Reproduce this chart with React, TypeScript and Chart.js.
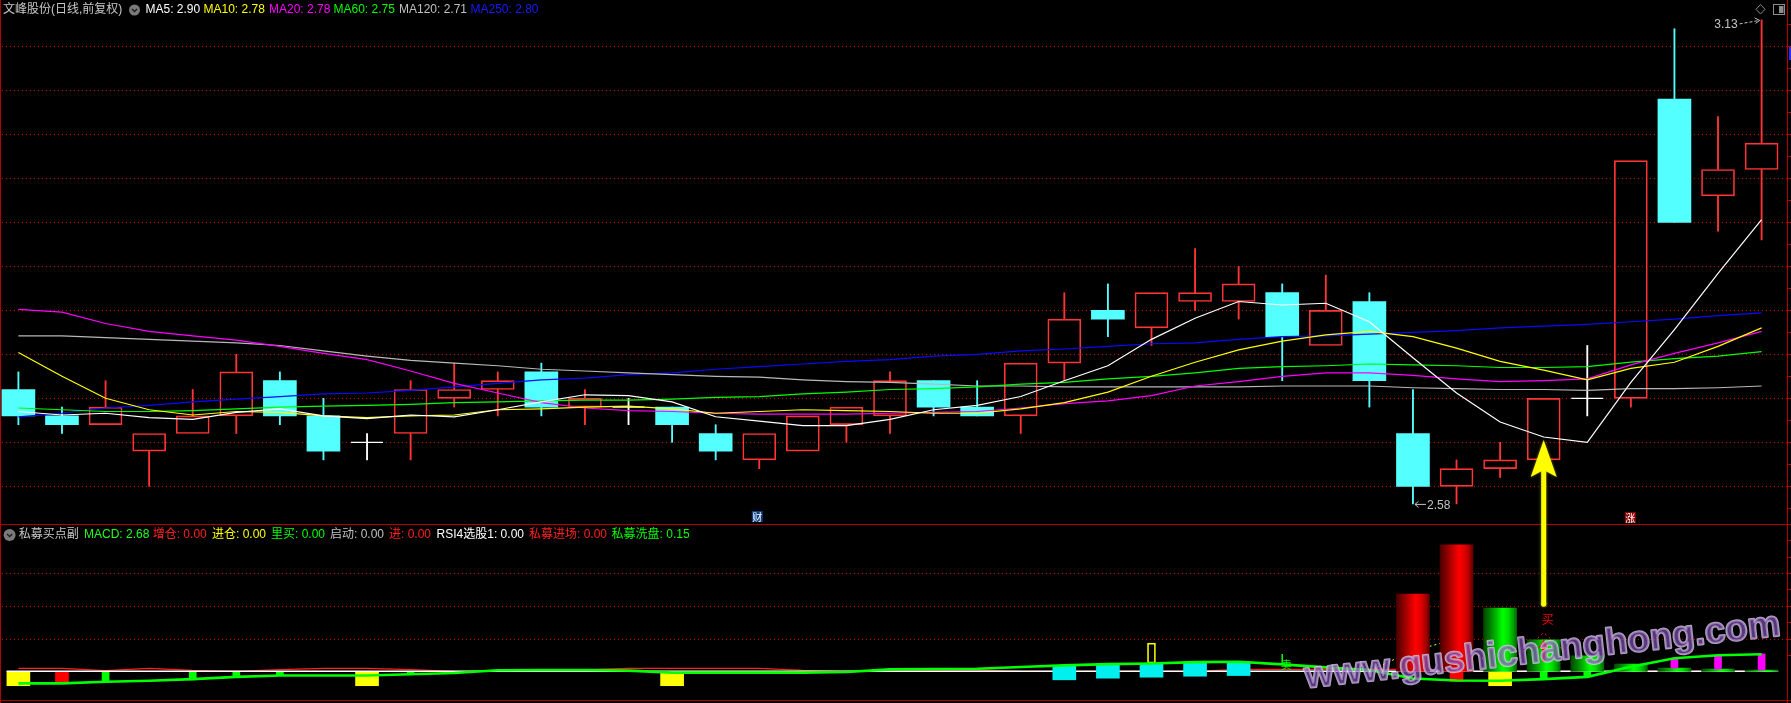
import React, { useEffect, useRef } from "react";
import { Chart, registerables } from "chart.js";

Chart.register(...registerables);

// ---------------- data ----------------
const opens = [2.71,2.68,2.67,2.64,2.66,2.68,2.72,2.68,2.65,2.66, 2.70,2.71,2.73,2.69,2.69,2.69,2.66,2.63,2.64,2.67, 2.68,2.72,2.69,2.68,2.74,2.80,2.78,2.81,2.81,2.82, 2.76,2.81,2.66,2.60,2.62,2.63,2.70,2.70,3.04,2.93, 2.96];
const highs = [2.73,2.69,2.72,2.66,2.71,2.75,2.73,2.70,2.66,2.72, 2.74,2.73,2.74,2.71,2.70,2.69,2.67,2.66,2.68,2.69, 2.73,2.72,2.72,2.74,2.82,2.83,2.82,2.87,2.85,2.83, 2.84,2.82,2.71,2.63,2.65,2.70,2.76,2.97,3.12,3.02, 3.13];
const lows = [2.67,2.66,2.67,2.60,2.66,2.66,2.67,2.63,2.63,2.63, 2.69,2.68,2.68,2.67,2.67,2.65,2.63,2.62,2.64,2.65, 2.66,2.68,2.68,2.66,2.72,2.77,2.76,2.80,2.79,2.72, 2.76,2.69,2.58,2.58,2.61,2.63,2.68,2.69,2.90,2.89, 2.88];
const closes = [2.68,2.67,2.69,2.66,2.68,2.73,2.68,2.64,2.65,2.71, 2.71,2.72,2.69,2.70,2.69,2.67,2.64,2.66,2.68,2.69, 2.72,2.69,2.68,2.74,2.79,2.79,2.82,2.82,2.83,2.77, 2.80,2.72,2.60,2.62,2.63,2.70,2.70,2.97,2.90,2.96, 2.99];

const ma5 = [2.685,2.681,2.683,2.678,2.676,2.684,2.688,2.680,2.677,2.681, 2.679,2.687,2.696,2.704,2.703,2.696,2.679,2.674,2.669,2.669, 2.676,2.687,2.692,2.702,2.720,2.737,2.767,2.791,2.810,2.806, 2.808,2.787,2.746,2.706,2.673,2.656,2.650,2.718,2.778,2.842, 2.903];
const ma10 = [2.752,2.725,2.700,2.687,2.681,2.685,2.684,2.680,2.678,2.680, 2.681,2.687,2.688,2.690,2.691,2.688,2.683,2.685,2.687,2.686, 2.685,2.683,2.683,2.688,2.695,2.707,2.725,2.741,2.755,2.765, 2.772,2.776,2.770,2.757,2.742,2.732,2.721,2.734,2.741,2.759, 2.780];
const ma20 = [2.801,2.798,2.785,2.776,2.771,2.766,2.759,2.751,2.744,2.731, 2.717,2.706,2.695,2.689,2.686,2.685,2.683,2.682,2.682,2.682, 2.683,2.684,2.685,2.689,2.694,2.697,2.703,2.714,2.719,2.725, 2.729,2.729,2.726,2.722,2.719,2.720,2.722,2.738,2.751,2.763, 2.776];
const ma60 = [2.689,2.687,2.685,2.685,2.686,2.688,2.690,2.691,2.692,2.693, 2.695,2.696,2.697,2.698,2.698,2.699,2.701,2.702,2.705,2.707, 2.710,2.711,2.713,2.716,2.718,2.722,2.725,2.729,2.734,2.736, 2.737,2.739,2.738,2.737,2.735,2.735,2.736,2.741,2.745,2.748, 2.753];
const ma120 = [2.771,2.771,2.769,2.767,2.765,2.763,2.760,2.754,2.748,2.743, 2.740,2.737,2.733,2.731,2.729,2.727,2.725,2.724,2.721,2.719, 2.718,2.716,2.714,2.714,2.713,2.713,2.713,2.713,2.713,2.714, 2.714,2.714,2.712,2.711,2.710,2.710,2.709,2.711,2.711,2.712, 2.714];
const ma250 = [2.679,2.683,2.689,2.692,2.696,2.699,2.702,2.705,2.706,2.709, 2.713,2.717,2.721,2.723,2.727,2.729,2.733,2.736,2.739,2.742, 2.744,2.748,2.750,2.754,2.756,2.759,2.762,2.763,2.767,2.770, 2.771,2.773,2.775,2.777,2.780,2.782,2.784,2.787,2.790,2.794, 2.797];

const priceGridLevels = [3.10, 3.05, 3.00, 2.95, 2.90, 2.85, 2.80, 2.75, 2.70, 2.65, 2.60];
const subGridLevels = [1, 2, 3];

// sub panel (私募买点副)
const subGreenLine = [-0.37,-0.37,-0.32,-0.29,-0.24,-0.17,-0.13,-0.13,-0.13,-0.09, -0.05,0.03,0.04,0.04,0.02,-0.04,-0.04,-0.04,-0.04,-0.02, 0.06,0.07,0.08,0.13,0.18,0.22,0.24,0.28,0.29,0.21, 0.12,0.04,-0.22,-0.28,-0.29,-0.24,-0.17,0.14,0.40,0.49, 0.52];
const subRedLine = [0.09,0.09,0.02,0.09,0.03,0,0.05,0.09,0.09,0.05, 0,0,0.04,0.05,0.09,0.09,0.09,0.09,0.03,0, 0.04,0.04,0.04,0,0,0,0,0,0.06,0.06, 0.06,0.06,0.06,0,0,0,0,0,0,0, 0];
const yellowBlockBars = [0, 8, 15, 34];
const yellowBlockVals = [-0.44, -0.44, -0.44, -0.44];
const redBlockBars = [1, 33];
const redBlockVals = [-0.38, -0.31];
const greenStickBars = [2, 4, 5, 6, 9, 35, 36];
const greenStickVals = [-0.32, -0.26, -0.17, -0.13, -0.08, -0.24, -0.17];
const cyanBlockBars = [24, 25, 26, 27, 28];
const cyanBlockTop = [0.18, 0.22, 0.24, 0.28, 0.29];
const cyanBlockBottom = [-0.26, -0.21, -0.18, -0.15, -0.13];
const redCylBars = [32, 33];
const redCylVals = [2.36, 3.86];
const greenCylBars = [34, 35, 36, 37, 38, 39, 40];
const greenCylVals = [1.93, 0.96, 0.47, 0.22, 0.10, 0.07, 0.04];
const magentaBars = [38, 39, 40];
const magentaLow = [0.10, 0.07, 0.04];
const magentaHigh = [0.37, 0.47, 0.53];
const yellowBoxBars = [26];
const yellowBoxLow = [0.25];
const yellowBoxHigh = [0.86];
const yellowZigBars = [31, 32, 33, 34];
const yellowZigVals = [0.02, 0.62, 0.99, 0];
const redZigBars = [34, 35, 36];
const redZigVals = [0, 1.18, 0];

// markers
const buyBar = 35;
const buyArrowTipPrice = 2.6526;
const buyArrowTailSub = 1.97;
const buyRedArrowTop = 0.96;
const buyRedArrowBottom = 0.29;
const buyTextSub = 1.59;
const sellBar = 29;
const caiBar = 17;
const zhangBar = 37;

// legends
const mainTitle = "文峰股份(日线,前复权)";
const maNames = ["MA5", "MA10", "MA20", "MA60", "MA120", "MA250"];
const maColors = ["#ffffff", "#ffff00", "#ff00ff", "#00ff00", "#c0c0c0", "#1a1aff"];
const subTitle = "私募买点副";
const subNames = ["MACD", "增仓", "进仓", "里买", "启动", "进", "RSI4选股1", "私募进场", "私募洗盘"];
const subValues = ["2.68", "0.00", "0.00", "0.00", "0.00", "0.00", "0.00", "0.00", "0.15"];
const subColors = ["#20ff20", "#ff2020", "#ffff00", "#00ff00", "#c0c0c0", "#ff2020", "#ffffff", "#ff2020", "#00ff00"];
const watermark = "www.gushichanghong.com";

// ---------------- layout constants ----------------
const W = 1791;
const H = 703;
const STEP = 43.58;
const X_MIN = -18.4 / STEP;
const X_MAX = X_MIN + W / STEP;
const PX_PER_PRICE = 880;
const Y_MAX = 3.10 + 46.3 / PX_PER_PRICE;
const Y_MIN = Y_MAX - H / PX_PER_PRICE;
const PX_PER_SUB = 32.75;
const S_MAX = 671.3 / PX_PER_SUB;
const S_MIN = S_MAX - H / PX_PER_SUB;

const RED = "#ff3434";
const CYAN = "#54ffff";
const FONT = '"Liberation Sans", "Noto Sans CJK SC", sans-serif';
const CJK = '"Noto Sans CJK SC", "Liberation Sans", sans-serif';

const idx = opens.map((_, i) => i);
const upIdx = idx.filter((i) => closes[i] > opens[i]);
const downIdx = idx.filter((i) => closes[i] < opens[i]);
const dojiIdx = idx.filter((i) => closes[i] === opens[i]);

const pts = (arr: number[]) => arr.map((v, i) => ({ x: i, y: v }));
const pick = (bars: number[], a: number[], b?: number[]) =>
  bars.map((bi, k) => ({ x: bi, y: b ? [a[k], b[k]] : [0, a[k]] }));

const cylinder = (stops: [number, string][]) => (c: any) => {
  const fallback = stops[3][1];
  const chart = c && c.chart;
  if (!c || !c.raw || !chart || !chart.scales || !chart.scales.x) return fallback;
  const px = chart.scales.x.getPixelForValue(c.raw.x);
  if (!Number.isFinite(px)) return fallback;
  const g = chart.ctx.createLinearGradient(px - 16.5, 0, px + 16.5, 0);
  stops.forEach(([o, col]) => g.addColorStop(o, col));
  return g;
};
const redStops: [number, string][] = [[0, "#4a0000"], [0.18, "#800000"], [0.4, "#c80000"], [0.58, "#ff0000"], [0.75, "#e00000"], [0.9, "#a00000"], [1, "#600000"]];
const greenStops: [number, string][] = [[0, "#004800"], [0.18, "#007a00"], [0.4, "#00c000"], [0.58, "#00ff00"], [0.75, "#00e000"], [0.9, "#00a000"], [1, "#006800"]];

function buildConfig() {
  const bar = { type: "bar", grouped: false, borderSkipped: false, borderWidth: 0, yAxisID: "y" };
  const sbar = { ...bar, yAxisID: "y2" };
  const line = (data: any, color: string, order: number, extra: any = {}) => ({
    type: "line", data, borderColor: color, backgroundColor: color, borderWidth: 1.2,
    pointRadius: 0, tension: 0, fill: false, yAxisID: "y", order, ...extra,
  });

  const datasets: any[] = [
    // candles
    { ...bar, data: downIdx.map((i) => ({ x: i, y: [lows[i], highs[i]] })), backgroundColor: CYAN, barThickness: 1.2, order: 40 },
    { ...bar, data: upIdx.filter((i) => highs[i] > closes[i]).map((i) => ({ x: i, y: [closes[i], highs[i]] })), backgroundColor: RED, barThickness: 1.2, order: 40 },
    { ...bar, data: upIdx.filter((i) => lows[i] < opens[i]).map((i) => ({ x: i, y: [lows[i], opens[i]] })), backgroundColor: RED, barThickness: 1.2, order: 40 },
    { ...bar, data: dojiIdx.map((i) => ({ x: i, y: [lows[i], highs[i]] })), backgroundColor: "#ffffff", barThickness: 1.2, order: 40 },
    { ...bar, data: upIdx.map((i) => ({ x: i, y: [opens[i], closes[i]] })), backgroundColor: "rgba(0,0,0,0)", borderColor: RED, borderWidth: 1, barThickness: 33, order: 39 },
    { ...bar, data: downIdx.map((i) => ({ x: i, y: [closes[i], opens[i]] })), backgroundColor: CYAN, barThickness: 33, order: 39 },
    { type: "line", data: dojiIdx.map((i) => ({ x: i, y: opens[i] })), showLine: false, pointStyle: "line", pointRadius: 16, pointBorderWidth: 1.3, pointBorderColor: "#ffffff", borderColor: "#ffffff", yAxisID: "y", order: 38 },
    // moving averages
    line(pts(ma250), "#0a0aff", 8),
    line(pts(ma120), "#b8b8b8", 7),
    line(pts(ma60), "#00ff00", 6),
    line(pts(ma20), "#ff00ff", 5),
    line(pts(ma10), "#ffff00", 4),
    line(pts(ma5), "#ffffff", 3),
    // sub panel
    line(pts(subRedLine), "#ff2020", 60, { yAxisID: "y2", borderWidth: 1.3 }),
    line(yellowZigBars.map((b, k) => ({ x: b, y: yellowZigVals[k] })), "#ffff00", 59, { yAxisID: "y2", borderWidth: 1, borderDash: [2, 3] }),
    line(redZigBars.map((b, k) => ({ x: b, y: redZigVals[k] })), "#ff2020", 59, { yAxisID: "y2", borderWidth: 1, borderDash: [2, 3] }),
    { ...sbar, data: pick(yellowBlockBars, yellowBlockVals), backgroundColor: "#ffff00", barThickness: 23, order: 58 },
    { ...sbar, data: pick(redBlockBars, redBlockVals), backgroundColor: "#ff0000", barThickness: 13, order: 58 },
    { ...sbar, data: pick(greenStickBars, greenStickVals), backgroundColor: "#00ff00", barThickness: 7, order: 58 },
    line([{ x: idx[0] - 0.27, y: 0 }, { x: idx[idx.length - 1] + 0.38, y: 0 }], "#ffffff", 57, { yAxisID: "y2", borderWidth: 1.5 }),
    { ...sbar, data: pick(cyanBlockBars, cyanBlockBottom, cyanBlockTop), backgroundColor: "#00f0f0", barThickness: 23, order: 56 },
    { ...sbar, data: pick(redCylBars, redCylVals), backgroundColor: cylinder(redStops), barThickness: 33, order: 55 },
    { ...sbar, data: pick(greenCylBars, greenCylVals), backgroundColor: cylinder(greenStops), barThickness: 33, order: 55 },
    { ...sbar, data: pick(magentaBars, magentaLow, magentaHigh), backgroundColor: "#ff00ff", barThickness: 7, order: 54 },
    { ...sbar, data: pick(yellowBoxBars, yellowBoxLow, yellowBoxHigh), backgroundColor: "rgba(0,0,0,0)", borderColor: "#ffff00", borderWidth: 1, barThickness: 8, order: 54 },
    line(pts(subGreenLine), "#00ff00", 53, { yAxisID: "y2", borderWidth: 2.6 }),
  ];

  const deco = {
    id: "deco",
    beforeDraw(chart: any) {
      const { ctx } = chart;
      const ys = chart.scales.y, ss = chart.scales.y2;
      ctx.save();
      ctx.fillStyle = "#000";
      ctx.fillRect(0, 0, chart.width, chart.height);
      ctx.strokeStyle = "#b80000";
      ctx.lineWidth = 1;
      ctx.setLineDash([1, 3]);
      for (const p of priceGridLevels) {
        const y = Math.round(ys.getPixelForValue(p)) + 0.5;
        ctx.beginPath(); ctx.moveTo(2, y); ctx.lineTo(1787, y); ctx.stroke();
      }
      for (const v of subGridLevels) {
        const y = Math.round(ss.getPixelForValue(v)) + 0.5;
        ctx.beginPath(); ctx.moveTo(2, y); ctx.lineTo(1787, y); ctx.stroke();
      }
      ctx.setLineDash([]);
      ctx.fillStyle = "#b40000";
      ctx.fillRect(0, 0, 1, H);
      ctx.fillRect(1787, 0, 1, H);
      ctx.fillRect(0, 524, W, 1);
      ctx.fillRect(0, 700, W, 1);
      for (let y = 24.3; y < 520; y += 22) ctx.fillRect(1788, Math.round(y), 3, 1);
      for (let y = 540.3; y < 660; y += 16.4) ctx.fillRect(1788, Math.round(y), 3, 1);
      ctx.fillStyle = "#2a2aff";
      ctx.fillRect(1789, 47, 2, 13);
      ctx.restore();
    },
    afterDatasetsDraw(chart: any) {
      const { ctx } = chart;
      const xs = chart.scales.x, ys = chart.scales.y, ss = chart.scales.y2;
      ctx.save();
      // high / low labels
      let hiI = 0, loI = 0;
      highs.forEach((h, i) => { if (h > highs[hiI]) hiI = i; });
      lows.forEach((l, i) => { if (l < lows[loI]) loI = i; });
      const hx = xs.getPixelForValue(hiI), hy = ys.getPixelForValue(highs[hiI]);
      const lx = xs.getPixelForValue(loI), ly = ys.getPixelForValue(lows[loI]);
      ctx.font = "12px " + FONT;
      ctx.fillStyle = "#c4c4c4";
      ctx.strokeStyle = "#c4c4c4";
      ctx.textBaseline = "middle";
      ctx.textAlign = "right";
      ctx.fillText(highs[hiI].toFixed(2), hx - 24, hy + 4.5);
      ctx.lineWidth = 1;
      ctx.setLineDash([3, 2]);
      ctx.beginPath(); ctx.moveTo(hx - 22, hy + 4); ctx.lineTo(hx - 2, hy + 0.5); ctx.stroke();
      ctx.setLineDash([]);
      ctx.beginPath(); ctx.moveTo(hx - 7, hy - 2); ctx.lineTo(hx - 2, hy + 0.5); ctx.lineTo(hx - 6, hy + 3.5); ctx.stroke();
      ctx.textAlign = "left";
      ctx.fillText(lows[loI].toFixed(2), lx + 14, ly + 2);
      ctx.beginPath(); ctx.moveTo(lx + 2, ly + 0.5); ctx.lineTo(lx + 13, ly + 0.5); ctx.stroke();
      ctx.beginPath(); ctx.moveTo(lx + 5.5, ly - 2.5); ctx.lineTo(lx + 2, ly + 0.5); ctx.lineTo(lx + 5.5, ly + 3.5); ctx.stroke();

      // 财 / 涨 tags
      const tag = (x: number, y: number, bg: string, txt: string) => {
        ctx.fillStyle = bg;
        ctx.fillRect(x - 5.5, y - 5.5, 11, 11);
        ctx.fillStyle = "#ffffff";
        ctx.font = "10px " + CJK;
        ctx.textAlign = "center";
        ctx.textBaseline = "middle";
        ctx.fillText(txt, x, y + 0.5);
      };
      tag(xs.getPixelForValue(caiBar) - 2, 516.5, "#0c3c84", "财");
      tag(xs.getPixelForValue(zhangBar) - 0.5, 517.5, "#8a0000", "涨");

      // sell marker
      const sx = xs.getPixelForValue(sellBar);
      ctx.strokeStyle = "#00ff00";
      ctx.lineWidth = 1.5;
      ctx.beginPath(); ctx.moveTo(sx, ss.getPixelForValue(0.53)); ctx.lineTo(sx, ss.getPixelForValue(0.27)); ctx.stroke();
      ctx.fillStyle = "#00ff00";
      ctx.font = "11px " + CJK;
      ctx.textAlign = "center";
      ctx.fillText("卖", sx + 4, ss.getPixelForValue(0.2));

      // buy marker (red arrow + text)
      const bx = xs.getPixelForValue(buyBar);
      const rTop = ss.getPixelForValue(buyRedArrowTop);
      const rBot = ss.getPixelForValue(buyRedArrowBottom);
      ctx.fillStyle = "#ff0000";
      ctx.fillRect(bx - 1.5, rTop + 6, 3, rBot - rTop - 6);
      ctx.beginPath(); ctx.moveTo(bx, rTop); ctx.lineTo(bx + 5, rTop + 8); ctx.lineTo(bx - 5, rTop + 8); ctx.closePath(); ctx.fill();
      ctx.font = "12px " + CJK;
      ctx.fillText("买", bx + 4, ss.getPixelForValue(buyTextSub));

      // yellow big arrow
      const tipY = ys.getPixelForValue(buyArrowTipPrice);
      const tailY = ss.getPixelForValue(buyArrowTailSub);
      ctx.fillStyle = "#ffff00";
      ctx.shadowColor = "rgba(255,255,0,0.5)";
      ctx.shadowBlur = 3;
      ctx.beginPath();
      ctx.moveTo(bx, tipY);
      ctx.lineTo(bx + 13, tipY + 37);
      ctx.lineTo(bx, tipY + 30);
      ctx.lineTo(bx - 13, tipY + 37);
      ctx.closePath();
      ctx.fill();
      ctx.fillRect(bx - 2.5, tipY + 28, 5, tailY - tipY - 30);
      ctx.beginPath(); ctx.arc(bx, tailY - 2.5, 2.5, 0, Math.PI * 2); ctx.fill();
      ctx.restore();
    },
    afterDraw(chart: any) {
      const { ctx } = chart;
      ctx.save();
      // watermark
      ctx.translate(1306, 688);
      ctx.rotate((-6.3 * Math.PI) / 180);
      ctx.font = 'bold 36px "Liberation Sans"';
      const w = ctx.measureText(watermark).width || 478;
      const size = (36 * 478) / w;
      ctx.font = `bold ${size.toFixed(1)}px "Liberation Sans"`;
      ctx.textBaseline = "alphabetic";
      ctx.textAlign = "left";
      ctx.lineJoin = "round";
      ctx.lineWidth = 2.2;
      ctx.strokeStyle = "rgba(215,205,232,0.8)";
      ctx.strokeText(watermark, 0, 0);
      ctx.fillStyle = "rgba(140,90,190,0.62)";
      ctx.fillText(watermark, 0, 0);
      ctx.restore();

      ctx.save();
      const icon = (cx: number, cy: number, r: number) => {
        ctx.fillStyle = "#7a7a7a";
        ctx.beginPath(); ctx.arc(cx, cy, r, 0, Math.PI * 2); ctx.fill();
        ctx.strokeStyle = "#1e1e1e";
        ctx.lineWidth = 1.4;
        ctx.beginPath(); ctx.moveTo(cx - 2.6, cy - 1); ctx.lineTo(cx, cy + 1.6); ctx.lineTo(cx + 2.6, cy - 1); ctx.stroke();
      };
      ctx.textBaseline = "middle";
      ctx.textAlign = "left";
      ctx.font = "12px " + FONT;
      ctx.fillStyle = "#c8c8c8";
      ctx.fillText(mainTitle, 3, 10);
      icon(134.5, 10, 5.5);
      const maVals = [ma5, ma10, ma20, ma60, ma120, ma250].map((a) => a[a.length - 1].toFixed(2));
      const maX = [145.5, 203.5, 269, 333.5, 399, 470.5];
      maNames.forEach((n, k) => {
        ctx.fillStyle = maColors[k];
        ctx.fillText(`${n}: ${maVals[k]}`, maX[k], 10);
      });
      // sub header
      icon(9.6, 535, 6);
      ctx.fillStyle = "#c8c8c8";
      ctx.fillText(subTitle, 18.7, 535);
      const subX = [84, 152.7, 212, 271, 330, 389, 436.6, 529, 611.6];
      subNames.forEach((n, k) => {
        ctx.fillStyle = subColors[k];
        ctx.fillText(`${n}: ${subValues[k]}`, subX[k], 535);
      });
      // top-right icons
      ctx.strokeStyle = "#8c8c8c";
      ctx.lineWidth = 1;
      ctx.beginPath();
      ctx.moveTo(1760.5, 4.5); ctx.lineTo(1765, 9.3); ctx.lineTo(1760.5, 14); ctx.lineTo(1756, 9.3); ctx.closePath();
      ctx.stroke();
      ctx.strokeRect(1773.5, 4.5, 11, 10);
      ctx.fillStyle = "#8c8c8c";
      ctx.fillRect(1779, 6, 4.5, 7);
      ctx.restore();
    },
  };

  return {
    type: "bar",
    data: { datasets },
    options: {
      responsive: false,
      maintainAspectRatio: false,
      devicePixelRatio: 1,
      animation: false,
      events: [],
      layout: { padding: 0, autoPadding: false },
      plugins: { legend: { display: false }, tooltip: { enabled: false }, title: { display: false } },
      scales: {
        x: { type: "linear", min: X_MIN, max: X_MAX, bounds: "data", offset: false, display: false, grid: { offset: false } },
        y: { type: "linear", min: Y_MIN, max: Y_MAX, bounds: "data", beginAtZero: false, display: false },
        y2: { type: "linear", axis: "y", min: S_MIN, max: S_MAX, bounds: "data", beginAtZero: false, display: false },
      },
    },
    plugins: [deco],
  };
}

export default function App() {
  const ref = useRef<HTMLCanvasElement | null>(null);
  useEffect(() => {
    document.body.style.margin = "0";
    document.body.style.background = "#000";
    document.body.style.overflow = "hidden";
    const canvas = ref.current;
    if (!canvas) return;
    const chart = new Chart(canvas, buildConfig() as any);
    return () => chart.destroy();
  }, []);
  return (
    <div style={{ position: "absolute", left: 0, top: 0, width: W, height: H, background: "#000" }}>
      <canvas ref={ref} width={W} height={H} style={{ display: "block", width: W + "px", height: H + "px" }} />
    </div>
  );
}
